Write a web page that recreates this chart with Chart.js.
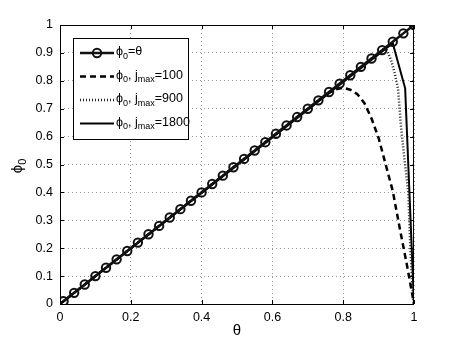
<!DOCTYPE html>
<html>
<head>
<meta charset="utf-8">
<script src="https://cdn.jsdelivr.net/npm/chart.js@4.4.1/dist/chart.umd.min.js"></script>
<style>
html, body { margin: 0; padding: 0; background: #fff; }
</style>
</head>
<body>
<canvas id="phiChart" width="457" height="344"></canvas>
<script>
// phi_0 = theta reference line (with circle markers)
const thetaRef = [0.01, 0.04, 0.07, 0.10, 0.13, 0.16, 0.19, 0.22, 0.25, 0.28, 0.31, 0.34,
    0.37, 0.40, 0.43, 0.46, 0.49, 0.52, 0.55, 0.58, 0.61, 0.64, 0.67, 0.70,
    0.73, 0.76, 0.79, 0.82, 0.85, 0.88, 0.91, 0.94, 0.97, 1.00];
const phiRef = [0.01, 0.04, 0.07, 0.10, 0.13, 0.16, 0.19, 0.22, 0.25, 0.28, 0.31, 0.34,
    0.37, 0.40, 0.43, 0.46, 0.49, 0.52, 0.55, 0.58, 0.61, 0.64, 0.67, 0.70,
    0.73, 0.76, 0.79, 0.82, 0.85, 0.88, 0.91, 0.94, 0.97, 1.00];

// jmax = 100 (dashed)
const theta100 = [0, 0.70, 0.76, 0.78, 0.80, 0.82, 0.84, 0.86, 0.88, 0.90, 0.92, 0.94, 0.96, 0.98, 0.99, 1.00];
const phi100 = [0, 0.70, 0.757, 0.77, 0.775, 0.768, 0.752, 0.72, 0.665, 0.595, 0.50, 0.405, 0.27, 0.14, 0.07, 0];

// jmax = 900 (dotted)
const theta900 = [0, 0.92, 0.935, 0.945, 0.955, 0.963, 0.973, 0.984, 0.99, 0.997, 1.00];
const phi900 = [0, 0.92, 0.875, 0.83, 0.77, 0.64, 0.52, 0.40, 0.19, 0.03, 0];

// jmax = 1800 (solid)
const theta1800 = [0, 0.94, 0.975, 1.00];
const phi1800 = [0, 0.935, 0.773, 0];

const xTicks = [0, 0.2, 0.4, 0.6, 0.8, 1];
const yTicks = [0, 0.1, 0.2, 0.3, 0.4, 0.5, 0.6, 0.7, 0.8, 0.9, 1];

// legend entries: [text, isSubscript] pieces
const legendLabels = [
    [['ϕ', false], ['0', true], ['=θ', false]],
    [['ϕ', false], ['0', true], [', j', false], ['max', true], ['=100', false]],
    [['ϕ', false], ['0', true], [', j', false], ['max', true], ['=900', false]],
    [['ϕ', false], ['0', true], [', j', false], ['max', true], ['=1800', false]]
];

const FONT = '"Liberation Sans", Arial, Helvetica, sans-serif';

function pts(xs, ys) {
    return xs.map((x, i) => ({ x: x, y: ys[i] }));
}

function fmtTick(v) {
    return (v === 0 || v === 1) ? String(v) : v.toFixed(1);
}

// draws text pieces with subscripts, returns end x
function drawPieces(ctx, pieces, x, y, size) {
    for (const [t, sub] of pieces) {
        ctx.font = (sub ? Math.round(size * 0.72) : size) + 'px ' + FONT;
        ctx.fillText(t, x, y + (sub ? size * 0.33 : 0));
        x += ctx.measureText(t).width;
    }
    return x;
}

function piecesWidth(ctx, pieces, size) {
    let w = 0;
    for (const [t, sub] of pieces) {
        ctx.font = (sub ? Math.round(size * 0.72) : size) + 'px ' + FONT;
        w += ctx.measureText(t).width;
    }
    return w;
}

// matlab-ish frame with inward ticks, legend and axis titles
const framePlugin = {
    id: 'frame',
    afterDatasetsDraw(chart) {
        const { ctx, chartArea: a, scales } = chart;
        ctx.save();
        ctx.strokeStyle = '#000';
        ctx.lineWidth = 1;
        ctx.strokeRect(a.left + 0.5, a.top + 0.5, a.right - a.left - 1, a.bottom - a.top);
        ctx.beginPath();
        xTicks.forEach(v => {
            const px = Math.round(scales.x.getPixelForValue(v)) + 0.5;
            ctx.moveTo(px, a.bottom); ctx.lineTo(px, a.bottom - 4);
            ctx.moveTo(px, a.top); ctx.lineTo(px, a.top + 4);
        });
        yTicks.forEach(v => {
            const py = Math.round(scales.y.getPixelForValue(v)) + 0.5;
            ctx.moveTo(a.left, py); ctx.lineTo(a.left + 4, py);
            ctx.moveTo(a.right, py); ctx.lineTo(a.right - 4, py);
        });
        ctx.stroke();
        ctx.restore();
    },
    afterDraw(chart) {
        const ctx = chart.ctx;
        const ds = chart.data.datasets;
        ctx.save();

        // legend box
        const bx = 73, by = 38, bw = 115, bh = 101;
        ctx.fillStyle = '#fff';
        ctx.fillRect(bx, by, bw, bh);
        ctx.strokeStyle = '#000';
        ctx.lineWidth = 1;
        ctx.strokeRect(bx + 0.5, by + 0.5, bw, bh);

        ctx.textBaseline = 'middle';
        ctx.textAlign = 'left';
        legendLabels.forEach((pieces, i) => {
            const y = 53 + i * 23.5;
            const d = ds[i];
            ctx.save();
            ctx.strokeStyle = d.borderColor;
            ctx.lineWidth = d.borderWidth;
            ctx.setLineDash(d.borderDash || []);
            ctx.beginPath();
            ctx.moveTo(80, y);
            ctx.lineTo(114, y);
            ctx.stroke();
            if (d.pointRadius > 0) {
                ctx.setLineDash([]);
                ctx.lineWidth = d.pointBorderWidth;
                ctx.beginPath();
                ctx.arc(97, y, d.pointRadius, 0, Math.PI * 2);
                ctx.stroke();
            }
            ctx.restore();
            ctx.fillStyle = '#000';
            drawPieces(ctx, pieces, 116, y - 1, 12.5);
        });

        // axis titles
        ctx.fillStyle = '#000';
        ctx.textAlign = 'center';
        ctx.font = '15px ' + FONT;
        ctx.fillText('θ', 237, 331);

        const yTitle = [['ϕ', false], ['0', true]];
        ctx.translate(18, 166);
        ctx.rotate(-Math.PI / 2);
        ctx.textAlign = 'left';
        const w = piecesWidth(ctx, yTitle, 15);
        drawPieces(ctx, yTitle, -w / 2, 0, 15);
        ctx.restore();
    }
};

const ctx = document.getElementById('phiChart').getContext('2d');

const phiChart = new Chart(ctx, {
    type: 'line',
    data: {
        datasets: [
            {
                label: 'phi0=theta',
                data: pts(thetaRef, phiRef),
                borderColor: '#111',
                borderWidth: 2.5,
                pointRadius: 4.2,
                pointBorderWidth: 2,
                pointBorderColor: '#111',
                pointBackgroundColor: 'rgba(0,0,0,0)',
                tension: 0
            },
            {
                label: 'phi0, jmax=100',
                data: pts(theta100, phi100),
                borderColor: '#000',
                borderWidth: 2.5,
                borderDash: [6, 4],
                pointRadius: 0,
                tension: 0
            },
            {
                label: 'phi0, jmax=900',
                data: pts(theta900, phi900),
                borderColor: '#222',
                borderWidth: 2.5,
                borderDash: [1, 2],
                pointRadius: 0,
                tension: 0
            },
            {
                label: 'phi0, jmax=1800',
                data: pts(theta1800, phi1800),
                borderColor: '#000',
                borderWidth: 2,
                pointRadius: 0,
                tension: 0
            }
        ]
    },
    options: {
        responsive: false,
        animation: false,
        layout: { padding: { top: 25, right: 43, left: 0, bottom: 0 } },
        plugins: {
            legend: { display: false },
            tooltip: { enabled: false }
        },
        scales: {
            x: {
                type: 'linear',
                min: 0,
                max: 1,
                afterBuildTicks: s => { s.ticks = xTicks.map(v => ({ value: v })); },
                afterFit: s => { s.height = 40; },
                grid: { color: '#999', drawTicks: false },
                border: { display: false, dash: [1, 3] },
                ticks: {
                    color: '#000',
                    padding: 6,
                    font: { family: FONT, size: 12.5 },
                    callback: v => fmtTick(v)
                }
            },
            y: {
                type: 'linear',
                min: 0,
                max: 1,
                afterBuildTicks: s => { s.ticks = yTicks.map(v => ({ value: v })); },
                afterFit: s => { s.width = 60; },
                grid: { color: '#999', drawTicks: false },
                border: { display: false, dash: [1, 3] },
                ticks: {
                    color: '#000',
                    padding: 7,
                    font: { family: FONT, size: 12.5 },
                    callback: v => fmtTick(v)
                }
            }
        }
    },
    plugins: [framePlugin]
});
</script>
</body>
</html>
